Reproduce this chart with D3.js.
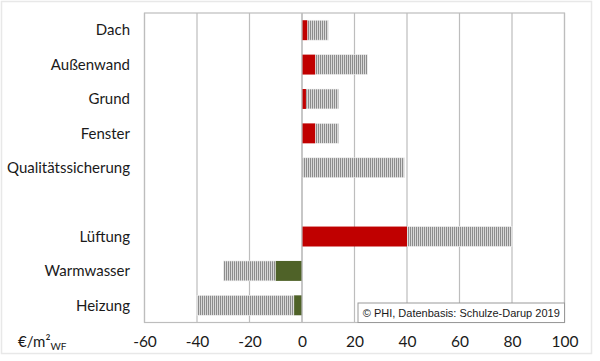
<!DOCTYPE html>
<html><head><meta charset="utf-8">
<script src="https://cdn.jsdelivr.net/npm/d3@7/dist/d3.min.js"></script>
<style>
html,body{margin:0;padding:0;background:#fff;}
svg{display:block;}
</style></head>
<body>
<svg id="c" width="600" height="361"></svg>
<script>
const categories = ["Dach","Außenwand","Grund","Fenster","Qualitätssicherung","","Lüftung","Warmwasser","Heizung"];
const solidValues = [2, 5, 1.5, 5, 0, null, 40, -10, -3];
const totalValues = [10, 25, 14, 14, 39, null, 80, -30, -40];
const tickValues = [-60,-40,-20,0,20,40,60,80,100];
const sourceText = "© PHI, Datenbasis: Schulze-Darup 2019";

const svg = d3.select("#c");
const L = 144.5, R = 564.5, T = 13, B = 322.5;
const x = d3.scaleLinear().domain([-60,100]).range([L,R]);
const keys = categories.map((c,i)=>i);
const y = d3.scaleBand().domain(keys).range([T,B]).paddingInner(0.42).paddingOuter(0.21);

// outer frame
svg.append("rect").attr("x",1.5).attr("y",1.5).attr("width",590).attr("height",352)
  .attr("fill","#fff").attr("stroke","#e8e8e8").attr("stroke-width",1.5);

const defs = svg.append("defs");
const pat = defs.append("pattern").attr("id","hatch").attr("patternUnits","userSpaceOnUse")
  .attr("width",2).attr("height",4);
pat.append("rect").attr("width",2).attr("height",4).attr("fill","#d8d8d8");
pat.append("rect").attr("width",1).attr("height",4).attr("fill","#8c8c8c");

// gridlines
svg.append("g").selectAll("line").data(tickValues).join("line")
  .attr("x1",d=>x(d)).attr("x2",d=>x(d)).attr("y1",T).attr("y2",B)
  .attr("stroke","#bdbdbd").attr("stroke-width",1.2);

// plot border
svg.append("rect").attr("x",L).attr("y",T).attr("width",R-L).attr("height",B-T)
  .attr("fill","none").attr("stroke","#bdbdbd").attr("stroke-width",1.2);

const rows = categories.map((c,i)=>({i, c, s: solidValues[i], t: totalValues[i]})).filter(d=>d.t!==null);

// hatched bars (from solid end to total)
svg.append("g").selectAll("rect").data(rows).join("rect")
  .attr("x",d=>Math.min(x(d.s),x(d.t)))
  .attr("width",d=>Math.abs(x(d.t)-x(d.s)))
  .attr("y",d=>y(d.i)).attr("height",y.bandwidth())
  .attr("fill","url(#hatch)").attr("stroke","#f0f0f0").attr("stroke-width",0.6);

// solid bars
svg.append("g").selectAll("rect").data(rows.filter(d=>d.s!==0)).join("rect")
  .attr("x",d=>Math.min(x(0),x(d.s)))
  .attr("width",d=>Math.abs(x(d.s)-x(0)))
  .attr("y",d=>y(d.i)).attr("height",y.bandwidth())
  .attr("fill",d=>d.s>0?"#c00000":"#4f6228");

// zero line redraw
svg.append("line").attr("x1",x(0)).attr("x2",x(0)).attr("y1",T).attr("y2",B)
  .attr("stroke","#bdbdbd").attr("stroke-width",1.2);

// category labels
svg.append("g").selectAll("text").data(categories.map((c,i)=>({c,i}))).join("text")
  .attr("x",130).attr("y",d=>y(d.i)+y.bandwidth()/2)
  .attr("dy","0.35em").attr("text-anchor","end")
  .attr("font-family","Lato, 'Open Sans', sans-serif").attr("font-size",15)
  .attr("fill","#1a1a1a").text(d=>d.c);

// x axis
const ax = svg.append("g").attr("transform",`translate(0,${B})`)
  .call(d3.axisBottom(x).tickValues(tickValues).tickSize(0).tickPadding(13).tickFormat(d3.format("d")));
ax.select(".domain").remove();
ax.selectAll("text").attr("font-family","Lato, 'Open Sans', sans-serif").attr("font-size",15.5)
  .attr("fill","#1a1a1a").text(d=>d<0?"-"+Math.abs(d):d);

// unit label
const u = svg.append("text").attr("x",18).attr("y",347)
  .attr("font-family","Lato, 'Open Sans', sans-serif").attr("font-size",15).attr("fill","#1a1a1a");
u.append("tspan").text("€/m²");
u.append("tspan").attr("font-size",10).attr("dy",3).text("WF");

// source box
const bx = 358, bw = R - bx, by = 303, bh = B - by;
svg.append("rect").attr("x",bx).attr("y",by).attr("width",bw).attr("height",bh)
  .attr("fill","#fff").attr("stroke","#9a9a9a").attr("stroke-width",1);
svg.append("text").attr("x",bx+bw/2).attr("y",by+bh/2).attr("dy","0.35em").attr("text-anchor","middle")
  .attr("font-family","'Liberation Sans', Arial, sans-serif").attr("font-size",11).attr("fill","#1a1a1a")
  .text(sourceText);
</script>
</body></html>
